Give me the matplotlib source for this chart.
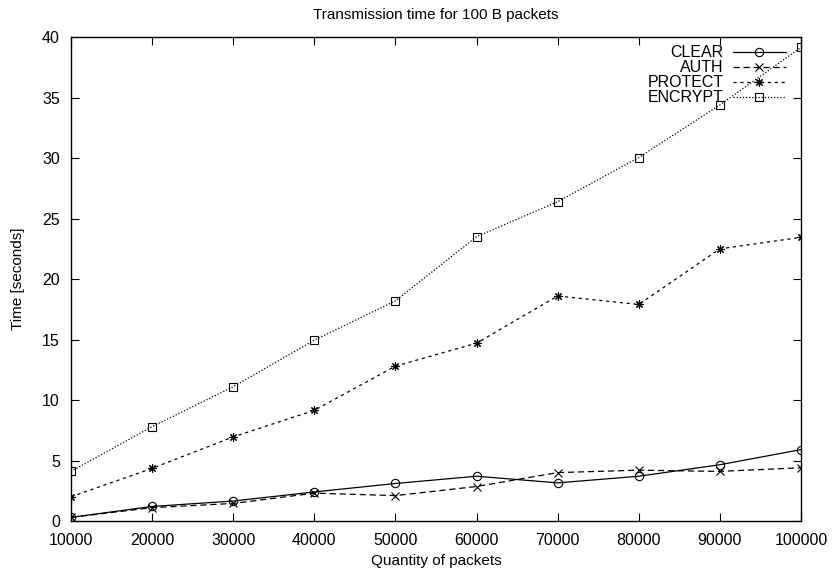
import matplotlib
matplotlib.use("Agg")
import matplotlib.pyplot as plt

plt.rcParams['font.family'] = ['Liberation Sans', 'DejaVu Sans']

packets = [10000, 20000, 30000, 40000, 50000, 60000, 70000, 80000, 90000, 100000]
clear = [0.3, 1.2, 1.65, 2.4, 3.1, 3.7, 3.15, 3.7, 4.65, 5.9]
auth = [0.3, 1.1, 1.45, 2.3, 2.1, 2.85, 4.0, 4.2, 4.1, 4.4]
protect = [2.0, 4.35, 6.95, 9.15, 12.8, 14.7, 18.6, 17.9, 22.5, 23.45]
encrypt = [4.1, 7.8, 11.1, 14.95, 18.2, 23.5, 26.4, 30.05, 34.4, 39.15]

fig = plt.figure(figsize=(8.34, 5.72), dpi=100)
ax = fig.add_axes([0.0851, 0.0892, 0.8753, 0.8458])

ms = 6
ax.plot(packets, clear, color='black', lw=0.9, ls='-', marker='o', ms=ms,
        mfc='none', mew=0.8, label='CLEAR')
ax.plot(packets, auth, color='black', lw=0.9, ls=(0, (5, 3)), marker='x', ms=ms,
        mew=0.8, label='AUTH')
ax.plot(packets, protect, color='black', lw=0.9, ls=(0, (2.5, 3)), marker=(8, 2, 0),
        ms=ms, mew=0.8, label='PROTECT')
ax.plot(packets, encrypt, color='black', lw=0.9, ls=(0, (1, 1.5)), marker='s', ms=ms - 0.5,
        mfc='none', mew=0.8, label='ENCRYPT')

ax.set_xlim(10000, 100000)
ax.set_ylim(0, 40)
ax.set_xticks(range(10000, 100001, 10000))
ax.set_yticks(range(0, 41, 5))
ax.tick_params(direction='in', top=True, right=True, length=6, labelsize=11.5)
ax.tick_params(axis='x', pad=9)
ax.tick_params(axis='y', pad=8)
for s in ax.spines.values():
    s.set_linewidth(1.0)

ax.set_xlabel('Quantity of packets', fontsize=11, labelpad=4)
ax.set_ylabel('Time [seconds]', fontsize=11, labelpad=12)
ax.set_title('Transmission time for 100 B packets', fontsize=11, pad=13)

ax.legend(loc='upper right', frameon=False, markerfirst=False, fontsize=11.5,
          handlelength=3.3, labelspacing=0.0, borderaxespad=0.1,
          bbox_to_anchor=(0.99, 1.0), handletextpad=0.6)

fig.savefig('out.png', dpi=100)
